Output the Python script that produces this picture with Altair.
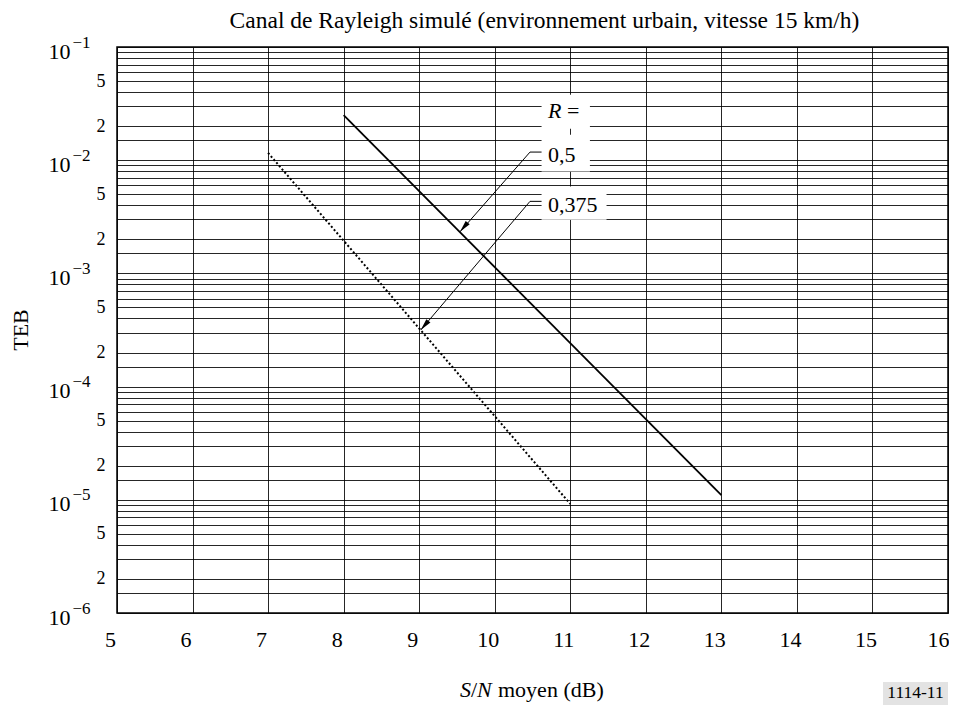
import altair as alt
import pandas as pd

FONT = "Liberation Serif"

# ---------------- data ----------------
snr_r05 = [8, 13]
teb_r05 = [2.5e-2, 1.1e-5]
snr_r0375 = [7, 11]
teb_r0375 = [1.16e-2, 9.2e-6]

x_ticks = list(range(5, 17))
y_decades = [-6, -5, -4, -3, -2]
y_mantissas = [1, 1.5, 2, 3, 4, 5, 6, 7, 8, 9]
y_major = [1e-6, 1e-5, 1e-4, 1e-3, 1e-2, 1e-1]
y_grid = [m * 10.0 ** k for k in y_decades for m in y_mantissas] + [1e-1]

title_text = "Canal de Rayleigh simulé (environnement urbain, vitesse 15 km/h)"
y_title = "TEB"
fig_id = "1114-11"

# legend annotation (data coordinates)
leg_labels = ["", "0,5", "0,375"]
leg_text_x = [10.705, 10.705, 10.705]
leg_text_y = [2.70e-2, 1.118e-2, 4.04e-3]
leg_box_x1 = [10.62, 10.62, 10.62]
leg_box_x2 = [11.26, 11.26, 11.48]
leg_box_y1 = [3.79e-2, 1.68e-2, 5.87e-3]
leg_box_y2 = [1.90e-2, 7.96e-3, 2.98e-3]

arrow_id = ["a", "a", "a", "b", "b", "b"]
arrow_ord = [0, 1, 2, 0, 1, 2]
arrow_x = [10.62, 10.467, 9.54, 10.62, 10.467, 9.02]
arrow_y = [1.18e-2, 1.18e-2, 2.33e-3, 4.33e-3, 4.33e-3, 3.16e-4]
tip_x = [9.54, 9.02]
tip_y = [2.33e-3, 3.16e-4]

# ---------------- tables ----------------
df05 = pd.DataFrame({"x": snr_r05, "y": teb_r05})
df0375 = pd.DataFrame({"x": snr_r0375, "y": teb_r0375})
dfmaj = pd.DataFrame({"y": y_major})
dfbox = pd.DataFrame({"x": leg_box_x1, "x2": leg_box_x2, "y": leg_box_y1, "y2": leg_box_y2})
dftxt = pd.DataFrame({"x": leg_text_x, "y": leg_text_y, "t": leg_labels})
dfR = pd.DataFrame({"x": leg_text_x[:1], "y": leg_text_y[:1]})
dfarr = pd.DataFrame({"id": arrow_id, "o": arrow_ord, "x": arrow_x, "y": arrow_y})
dftip = pd.DataFrame({"x": tip_x, "y": tip_y})
one = pd.DataFrame({"a": [0]})

xs = alt.Scale(domain=[5, 16], nice=False, zero=False)
ys = alt.Scale(type="log", domain=[1e-6, 1e-1], nice=False)

xaxis = alt.Axis(values=x_ticks, title=None, grid=True, gridColor="black", gridOpacity=0.85,
                 gridWidth=1, labelFont=FONT, labelFontSize=22, labelColor="black",
                 labelPadding=16,
                 labelOffset={"condition": {"test": "datum.value == 16", "value": -10}, "value": -7},
                 tickSize=0, domain=False,
                 labelFlush=False, labelOverlap=False, format="d")

minor_expr = ("(slice(format(datum.value,'.1e'),0,3)=='2.0' || slice(format(datum.value,'.1e'),0,3)=='5.0')"
              " ? slice(format(datum.value,'.1e'),0,1) : ''")
yaxisA = alt.Axis(orient="left", values=y_grid, title=None, grid=True, gridColor="black",
                  gridOpacity=0.85, gridWidth=1, labelExpr=minor_expr, labelFont=FONT,
                  labelFontSize=18, labelColor="black", labelPadding=12, tickSize=0,
                  domain=False, labelBaseline="middle", labelOverlap=False, labelFlush=False)
yaxisB = alt.Axis(orient="left", values=y_major, title=None, grid=False, labelExpr="'10'",
                  labelFont=FONT, labelFontSize=22, labelColor="black", labelPadding=47,
                  labelOffset=4, tickSize=0, ticks=False, domain=False, labelBaseline="middle",
                  labelOverlap=False, labelFlush=False)
yaxisC = alt.Axis(orient="left", values=y_major, title=None, grid=False,
                  labelExpr="'\u2212' + format(-log(datum.value)/LN10, '.0f')",
                  labelFont=FONT, labelFontSize=17, labelColor="black", labelPadding=27,
                  labelOffset=-5, tickSize=0, ticks=False, domain=False, labelBaseline="middle",
                  labelOverlap=False, labelFlush=False)

X = alt.X("x:Q", scale=xs, axis=xaxis)

solid = alt.Chart(df05).mark_line(color="black", strokeWidth=1.8).encode(
    x=X, y=alt.Y("y:Q", scale=ys, axis=yaxisA))
dotted = alt.Chart(df0375).mark_line(color="black", strokeWidth=2, strokeDash=[2, 2.2]).encode(
    x=X, y=alt.Y("y:Q", scale=ys, axis=None))
axB = alt.Chart(dfmaj).mark_point(opacity=0).encode(y=alt.Y("y:Q", scale=ys, axis=yaxisB))
axC = alt.Chart(dfmaj).mark_point(opacity=0).encode(y=alt.Y("y:Q", scale=ys, axis=yaxisC))

boxes = alt.Chart(dfbox).mark_rect(color="white").encode(
    x=X, x2="x2:Q", y=alt.Y("y:Q", scale=ys, axis=None), y2="y2:Q")
texts = alt.Chart(dftxt).mark_text(font=FONT, fontSize=22, align="left", baseline="middle",
                                   color="black").encode(
    x=X, y=alt.Y("y:Q", scale=ys, axis=None), text="t:N")
r_it = alt.Chart(dfR).mark_text(font=FONT, fontSize=22, fontStyle="italic", align="left",
                                baseline="middle", color="black", text="R").encode(
    x=X, y=alt.Y("y:Q", scale=ys, axis=None))
r_eq = alt.Chart(dfR).mark_text(font=FONT, fontSize=22, align="left", baseline="middle",
                                color="black", text="=", dx=19).encode(
    x=X, y=alt.Y("y:Q", scale=ys, axis=None))
leaders = alt.Chart(dfarr).mark_line(color="black", strokeWidth=1).encode(
    x=X, y=alt.Y("y:Q", scale=ys, axis=None), detail="id:N", order="o:Q")
heads = alt.Chart(dftip).mark_point(shape="M0,0L-0.22,1L0.22,1Z", filled=True, color="black",
                                     opacity=1, size=576, angle=220).encode(
    x=X, y=alt.Y("y:Q", scale=ys, axis=None))

teb = alt.Chart(one).mark_text(font=FONT, fontSize=22, angle=270, align="center",
                               baseline="middle", color="black", text=y_title).encode(
    x=alt.value(-96), y=alt.value(283))
xt1 = alt.Chart(one).mark_text(font=FONT, fontSize=22, fontStyle="italic", align="left",
                               baseline="middle", color="black", text="S").encode(
    x=alt.value(343), y=alt.value(643))
xt2 = alt.Chart(one).mark_text(font=FONT, fontSize=22, align="left",
                               baseline="middle", color="black", text="/").encode(
    x=alt.value(354), y=alt.value(643))
xt3 = alt.Chart(one).mark_text(font=FONT, fontSize=22, fontStyle="italic", align="left",
                               baseline="middle", color="black", text="N").encode(
    x=alt.value(360), y=alt.value(643))
xt4 = alt.Chart(one).mark_text(font=FONT, fontSize=22, align="left",
                               baseline="middle", color="black", text="moyen (dB)").encode(
    x=alt.value(381), y=alt.value(643))
idbox = alt.Chart(one).mark_rect(color="#e3e3e3").encode(
    x=alt.value(766), x2=alt.value(831), y=alt.value(635), y2=alt.value(658))
idtxt = alt.Chart(one).mark_text(font=FONT, fontSize=17.5, align="center", baseline="middle",
                                 color="black", text=fig_id).encode(
    x=alt.value(798.5), y=alt.value(646))

chart = alt.layer(
    solid, dotted, axB, axC, boxes, texts, r_it, r_eq, leaders, heads,
    teb, xt1, xt2, xt3, xt4, idbox, idtxt
).resolve_axis(y="independent").properties(
    width=831, height=566, autosize="none",
    padding={"left": 109, "top": 39, "right": 1, "bottom": 93},
    title=alt.TitleParams(text=title_text, font=FONT, fontSize=23.5, fontWeight="normal",
                          color="black", anchor="middle", dx=12, offset=1),
    background="white",
).configure_view(stroke="black", strokeWidth=1.5)

chart.save("out.html", embed_options={"renderer": "svg", "actions": False})
